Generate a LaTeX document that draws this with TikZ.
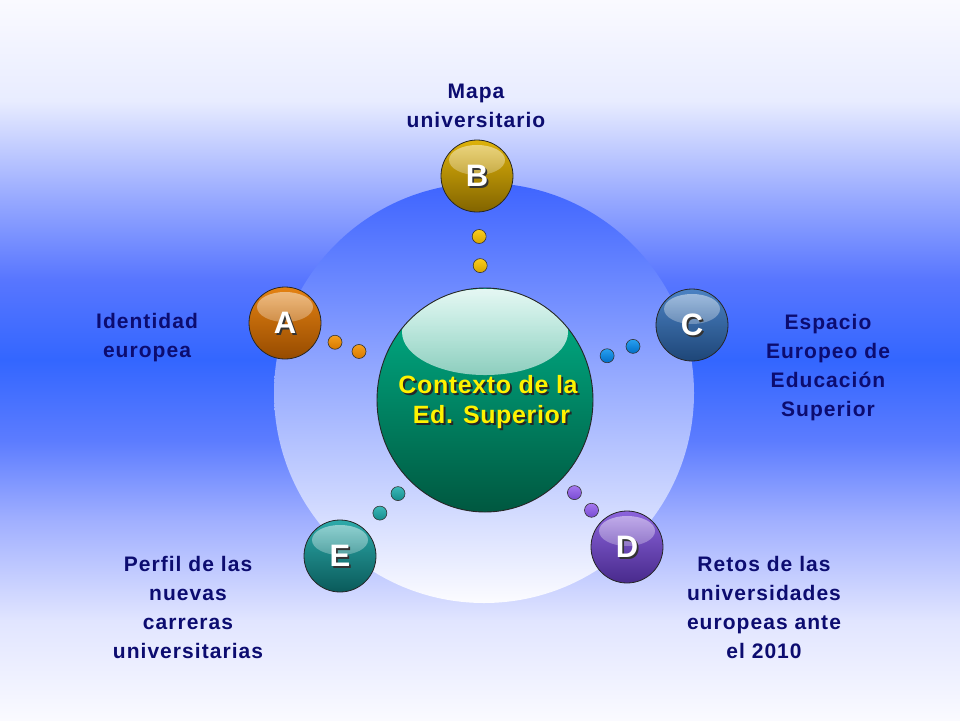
\documentclass[tikz,border=0pt]{standalone}
\usepackage{fontspec}
\setmainfont{Liberation Sans}
\newfontfamily\lblfont[LetterSpace=5.0]{Liberation Sans}
\newfontfamily\ctxfont[LetterSpace=2.5]{Liberation Sans}
\usetikzlibrary{fadings,shapes.geometric}

\definecolor{navy}{RGB}{12,12,112}
\definecolor{bgw}{RGB}{250,250,255}
\definecolor{bga}{RGB}{232,236,255}
\definecolor{bgb}{RGB}{150,168,255}
\definecolor{bgc}{RGB}{88,118,255}
\definecolor{bgm}{RGB}{51,102,255}
\definecolor{bgd}{RGB}{92,124,255}
\definecolor{bge}{RGB}{160,175,255}
\definecolor{bgf}{RGB}{225,229,255}
\definecolor{ringtop}{RGB}{62,100,255}
\definecolor{ringmid}{RGB}{190,198,255}
\definecolor{ringbot}{RGB}{252,252,255}

\definecolor{Atop}{RGB}{228,130,18}\definecolor{Abot}{RGB}{150,75,0}
\definecolor{Btop}{RGB}{222,178,10}\definecolor{Bbot}{RGB}{130,100,0}
\definecolor{Ctop}{RGB}{75,130,195}\definecolor{Cbot}{RGB}{30,70,120}
\definecolor{Dtop}{RGB}{140,100,220}\definecolor{Dbot}{RGB}{72,42,140}
\definecolor{Etop}{RGB}{45,170,170}\definecolor{Ebot}{RGB}{10,90,90}
\definecolor{Gtop}{RGB}{0,180,138}\definecolor{Gbot}{RGB}{0,88,64}

\definecolor{dAl}{RGB}{245,160,30}\definecolor{dA}{RGB}{215,120,0}
\definecolor{dBl}{RGB}{250,205,30}\definecolor{dB}{RGB}{215,165,0}
\definecolor{dCl}{RGB}{40,160,240}\definecolor{dC}{RGB}{0,110,200}
\definecolor{dDl}{RGB}{165,120,240}\definecolor{dD}{RGB}{120,75,210}
\definecolor{dEl}{RGB}{60,185,185}\definecolor{dE}{RGB}{20,140,140}

\pgfdeclareverticalshading{bgshade}{100bp}{color(0bp)=(bgw); color(25bp)=(bgw); color(31.9bp)=(bgf); color(38.9bp)=(bge); color(44.4bp)=(bgd); color(50bp)=(bgm); color(55.6bp)=(bgc); color(61.1bp)=(bgb); color(68bp)=(bga); color(75bp)=(bgw); color(100bp)=(bgw)}

\tikzset{
  ball/.style 2 args={circle, draw=black!85, line width=0.8pt, minimum size=72pt, inner sep=0pt,
    top color=#1, bottom color=#2,
    path picture={\fill[white, path fading=south, fill opacity=0.5]
      ([yshift=16pt]path picture bounding box.center) ellipse [x radius=28pt, y radius=15pt];}},
  dot/.style 2 args={circle, draw=black!80, line width=0.6pt, minimum size=14pt, inner sep=0pt,
    top color=#1, bottom color=#2},
  letter/.style={font=\bfseries\fontsize{31}{33}\selectfont, text=white, inner sep=0pt},
  lettershadow/.style={font=\bfseries\fontsize{31}{33}\selectfont, text=black!80, inner sep=0pt},
  lbl/.style={font=\lblfont\bfseries\fontsize{21}{29}\selectfont, text=navy, align=center, inner sep=0pt},
  ctxtext/.style={font=\ctxfont\bfseries\fontsize{25}{30}\selectfont, align=center, inner sep=0pt},
}

\begin{document}
\begin{tikzpicture}[x=1pt,y=-1pt]
\useasboundingbox (0,0) rectangle (960,720);
\shade[shading=bgshade] (0,0) rectangle (960,720);

% big disc
\shade[top color=ringtop, middle color=ringmid, bottom color=ringbot] (484,393) circle (210pt);

% centre ball
\node[ellipse, draw=black!85, line width=0.9pt, minimum width=216pt, minimum height=224pt, inner sep=0pt,
  top color=Gtop, bottom color=Gbot,
  path picture={\fill[white, path fading=south, fill opacity=0.9]
    ([yshift=68pt]path picture bounding box.center) ellipse [x radius=83pt, y radius=43pt];}]
  (ctx) at (485,400) {};
\node[ctxtext, text=black!85] (ctxs) at (490,404) {Contexto de la\\\hspace*{7pt}Ed. Superior};
\node[ctxtext, text=yellow] (ctxt) at (488,402) {Contexto de la\\\hspace*{7pt}Ed. Superior};

% outer balls
\node[ball={Atop}{Abot}] (A) at (285,323) {};
\node[ball={Btop}{Bbot}] (B) at (477,176) {};
\node[ball={Ctop}{Cbot}] (C) at (692,325) {};
\node[ball={Dtop}{Dbot}] (D) at (627,547) {};
\node[ball={Etop}{Ebot}] (E) at (340,556) {};

\foreach \n in {A,B,C,D,E}{
  \node[lettershadow] (\n s) at ([shift={(1.8pt,-1.8pt)}]\n.center) {\n};
  \node[letter] (\n l) at (\n.center) {\n};
}

% dotted connectors
\path (A.center) -- (ctx.center) node[dot={dAl}{dA}, pos=0.25] (a1) {} node[dot={dAl}{dA}, pos=0.37] (a2) {};
\path (B.center) -- (ctx.center) node[dot={dBl}{dB}, pos=0.27] (b1) {} node[dot={dBl}{dB}, pos=0.40] (b2) {};
\path (C.center) -- (ctx.center) node[dot={dCl}{dC}, pos=0.285] (c1) {} node[dot={dCl}{dC}, pos=0.41] (c2) {};
\path (D.center) -- (ctx.center) node[dot={dDl}{dD}, pos=0.25] (d1) {} node[dot={dDl}{dD}, pos=0.37] (d2) {};
\path (E.center) -- (ctx.center) node[dot={dEl}{dE}, pos=0.275] (e1) {} node[dot={dEl}{dE}, pos=0.40] (e2) {};

% labels
\node[lbl] (lB) at (476,106) {Mapa\\universitario};
\node[lbl] (lA) at (147,338) {Identidad\\europea};
\node[lbl] (lC) at (828,368) {Espacio\\Europeo de\\Educación\\Superior};
\node[lbl] (lE) at (188,607) {Perfil de las\\nuevas\\carreras\\universitarias};
\node[lbl] (lD) at (764,607) {Retos de las\\universidades\\europeas ante\\el 2010};
\end{tikzpicture}
\end{document}
